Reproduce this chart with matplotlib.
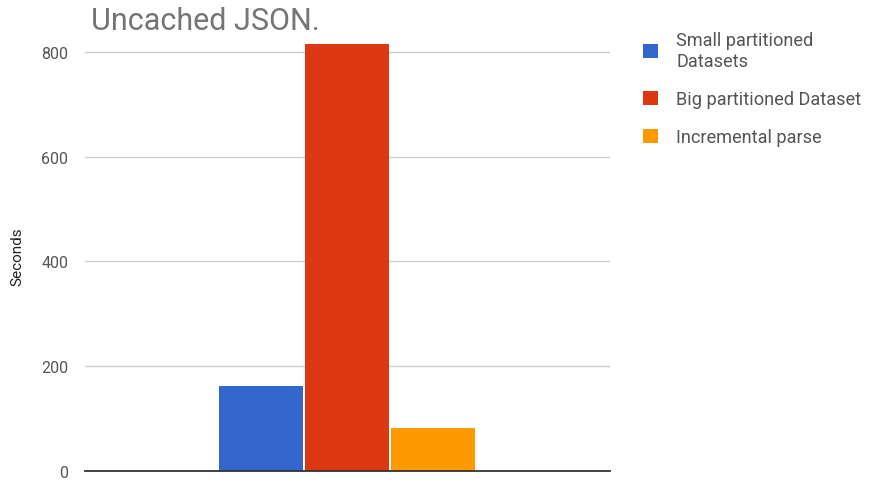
import numpy as np
import matplotlib.pyplot as plt

plt.rcParams['font.family'] = ['Roboto', 'DejaVu Sans']

# series values (seconds)
series = ["Small partitioned\nDatasets", "Big partitioned Dataset", "Incremental parse"]
seconds = [163, 815, 83]
colors = ["#3366cc", "#dc3912", "#ff9900"]
yticks = [0, 200, 400, 600, 800]

fig = plt.figure(figsize=(8.71, 4.85), dpi=100)
ax = fig.add_axes([0.0976, 0.0268, 0.6027, 0.886])

offsets = np.arange(len(series)) - 1
bars = ax.bar(offsets, seconds, width=0.98, color=colors, zorder=3, label=series)

ax.set_xlim(-3.06, 3.07)
ax.set_ylim(0, 820)
ax.set_yticks(yticks)
ax.set_xticks([])
ax.grid(axis='y', color='#cccccc', linewidth=1, zorder=0)
for s in ['top', 'right', 'left']:
    ax.spines[s].set_visible(False)
ax.spines['bottom'].set_color('#333333')
ax.spines['bottom'].set_linewidth(1.3)
ax.spines['bottom'].set_zorder(4)
ax.tick_params(axis='y', length=0, pad=12, labelsize=11.5, labelcolor='#555555')
ax.set_ylabel("Seconds", fontsize=11, color='#222222', labelpad=12)

fig.text(0.104, 0.985, "Uncached JSON.", fontsize=22, color='#757575', va='top')

leg = ax.legend(handles=bars, labels=series, loc='upper left',
                bbox_to_anchor=(0.719, 0.968), bbox_transform=fig.transFigure,
                frameon=False, fontsize=13.1, labelcolor='#555555',
                handlelength=0.85, handleheight=0.85, handletextpad=1.0,
                labelspacing=1.12)

fig.savefig('out.png', dpi=100)
